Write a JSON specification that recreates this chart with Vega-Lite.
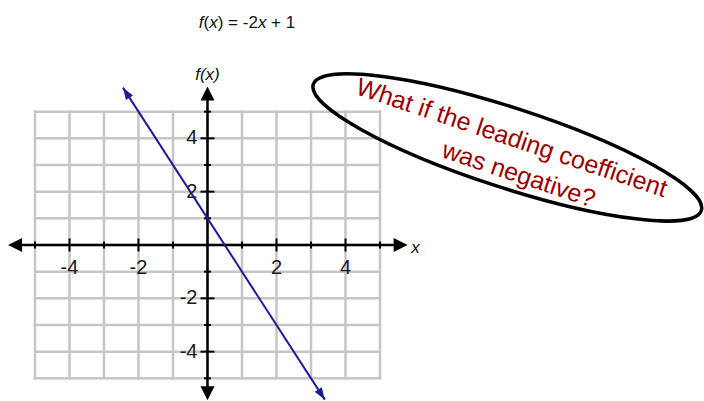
{
  "$schema": "https://vega.github.io/schema/vega-lite/v6.json",
  "width": 704,
  "height": 401,
  "padding": 0,
  "autosize": {"type": "none"},
  "config": {"view": {"stroke": null}},
  "datasets": {
    "grid": [{"v": -5}, {"v": -4}, {"v": -3}, {"v": -2}, {"v": -1}, {"v": 0}, {"v": 1}, {"v": 2}, {"v": 3}, {"v": 4}, {"v": 5}],
    "ticks": [{"v": -5, "major": "no"}, {"v": -4, "major": "yes"}, {"v": -3, "major": "no"}, {"v": -2, "major": "yes"}, {"v": -1, "major": "no"}, {"v": 1, "major": "no"}, {"v": 2, "major": "yes"}, {"v": 3, "major": "no"}, {"v": 4, "major": "yes"}, {"v": 5, "major": "no"}],
    "labels": [{"v": -4, "t": "-4"}, {"v": -2, "t": "-2"}, {"v": 2, "t": "2"}, {"v": 4, "t": "4"}],
    "fline": [{"x": -2.45, "y": 5.9}, {"x": 3.4, "y": -5.8}],
    "one": [{"note1": "What if the leading coefficient", "note2": "was negative?"}]
  },
  "layer": [
    {
      "data": {"name": "grid"},
      "mark": {"type": "rule", "color": "#c6c6c6", "strokeWidth": 2.5, "strokeCap": "square"},
      "encoding": {
        "x": {"field": "v", "type": "quantitative", "scale": {"domain": [-6.014, 14.391], "nice": false, "zero": false}, "axis": null},
        "y": {"datum": -5, "type": "quantitative", "scale": {"domain": [-5.85, 9.187], "nice": false, "zero": false}, "axis": null},
        "y2": {"datum": 5}
      }
    },
    {
      "data": {"name": "grid"},
      "mark": {"type": "rule", "color": "#c6c6c6", "strokeWidth": 2.5, "strokeCap": "square"},
      "encoding": {
        "y": {"field": "v", "type": "quantitative", "scale": {"domain": [-5.85, 9.187], "nice": false, "zero": false}, "axis": null},
        "x": {"datum": -5, "type": "quantitative", "scale": {"domain": [-6.014, 14.391], "nice": false, "zero": false}, "axis": null},
        "x2": {"datum": 5}
      }
    },
    {
      "data": {"name": "one"},
      "mark": {"type": "rule", "color": "#000000", "strokeWidth": 2.5},
      "encoding": {
        "x": {"datum": -5.6, "type": "quantitative", "axis": null},
        "x2": {"datum": 5.6},
        "y": {"datum": 0, "type": "quantitative", "axis": null}
      }
    },
    {
      "data": {"name": "one"},
      "mark": {"type": "rule", "color": "#000000", "strokeWidth": 2.5},
      "encoding": {
        "x": {"datum": 0, "type": "quantitative", "axis": null},
        "y": {"datum": -5.6, "type": "quantitative", "axis": null},
        "y2": {"datum": 5.7}
      }
    },
    {
      "data": {"name": "ticks"},
      "transform": [{"filter": "datum.major == 'yes'"}],
      "mark": {"type": "tick", "orient": "vertical", "color": "#000000", "size": 13, "thickness": 2, "opacity": 1},
      "encoding": {
        "x": {"field": "v", "type": "quantitative", "axis": null},
        "y": {"datum": 0, "type": "quantitative", "axis": null}
      }
    },
    {
      "data": {"name": "ticks"},
      "transform": [{"filter": "datum.major == 'no'"}],
      "mark": {"type": "tick", "orient": "vertical", "color": "#000000", "size": 7, "thickness": 2, "opacity": 1},
      "encoding": {
        "x": {"field": "v", "type": "quantitative", "axis": null},
        "y": {"datum": 0, "type": "quantitative", "axis": null}
      }
    },
    {
      "data": {"name": "ticks"},
      "transform": [{"filter": "datum.major == 'yes'"}],
      "mark": {"type": "tick", "orient": "horizontal", "color": "#000000", "size": 14, "thickness": 2, "opacity": 1},
      "encoding": {
        "y": {"field": "v", "type": "quantitative", "axis": null},
        "x": {"datum": 0, "type": "quantitative", "axis": null}
      }
    },
    {
      "data": {"name": "ticks"},
      "transform": [{"filter": "datum.major == 'no'"}],
      "mark": {"type": "tick", "orient": "horizontal", "color": "#000000", "size": 7, "thickness": 2, "opacity": 1},
      "encoding": {
        "y": {"field": "v", "type": "quantitative", "axis": null},
        "x": {"datum": 0, "type": "quantitative", "axis": null}
      }
    },
    {
      "data": {"name": "one"},
      "mark": {"type": "point", "shape": "M0,0L-1,2L1,2Z", "size": 196, "angle": 0, "filled": true, "color": "#000000", "opacity": 1, "strokeWidth": 0},
      "encoding": {"x": {"datum": 0, "type": "quantitative", "axis": null}, "y": {"datum": 5.94, "type": "quantitative", "axis": null}}
    },
    {
      "data": {"name": "one"},
      "mark": {"type": "point", "shape": "M0,0L-1,2L1,2Z", "size": 196, "angle": 180, "filled": true, "color": "#000000", "opacity": 1, "strokeWidth": 0},
      "encoding": {"x": {"datum": 0, "type": "quantitative", "axis": null}, "y": {"datum": -5.82, "type": "quantitative", "axis": null}}
    },
    {
      "data": {"name": "one"},
      "mark": {"type": "point", "shape": "M0,0L-1,2L1,2Z", "size": 196, "angle": 90, "filled": true, "color": "#000000", "opacity": 1, "strokeWidth": 0},
      "encoding": {"x": {"datum": 5.8, "type": "quantitative", "axis": null}, "y": {"datum": 0, "type": "quantitative", "axis": null}}
    },
    {
      "data": {"name": "one"},
      "mark": {"type": "point", "shape": "M0,0L-1,2L1,2Z", "size": 196, "angle": 270, "filled": true, "color": "#000000", "opacity": 1, "strokeWidth": 0},
      "encoding": {"x": {"datum": -5.78, "type": "quantitative", "axis": null}, "y": {"datum": 0, "type": "quantitative", "axis": null}}
    },
    {
      "data": {"name": "labels"},
      "mark": {"type": "text", "font": "Liberation Sans", "fontSize": 20, "color": "#1a1a1a", "align": "center", "baseline": "middle"},
      "encoding": {
        "x": {"field": "v", "type": "quantitative", "axis": null},
        "y": {"datum": -0.862, "type": "quantitative", "axis": null},
        "text": {"field": "t"}
      }
    },
    {
      "data": {"name": "labels"},
      "mark": {"type": "text", "font": "Liberation Sans", "fontSize": 20, "color": "#1a1a1a", "align": "right", "baseline": "middle"},
      "encoding": {
        "y": {"field": "v", "type": "quantitative", "axis": null},
        "x": {"datum": -0.29, "type": "quantitative", "axis": null},
        "text": {"field": "t"}
      }
    },
    {
      "data": {"name": "fline"},
      "mark": {"type": "line", "color": "#1c1c96", "strokeWidth": 2},
      "encoding": {
        "x": {"field": "x", "type": "quantitative", "axis": null},
        "y": {"field": "y", "type": "quantitative", "axis": null}
      }
    },
    {
      "data": {"name": "one"},
      "mark": {"type": "point", "shape": "M0,0L-0.7,2L0.7,2Z", "size": 144, "angle": 327.1, "filled": true, "color": "#1c1c96", "opacity": 1, "strokeWidth": 0},
      "encoding": {"x": {"datum": -2.45, "type": "quantitative", "axis": null}, "y": {"datum": 5.9, "type": "quantitative", "axis": null}}
    },
    {
      "data": {"name": "one"},
      "mark": {"type": "point", "shape": "M0,0L-0.7,2L0.7,2Z", "size": 144, "angle": 147.1, "filled": true, "color": "#1c1c96", "opacity": 1, "strokeWidth": 0},
      "encoding": {"x": {"datum": 3.4, "type": "quantitative", "axis": null}, "y": {"datum": -5.8, "type": "quantitative", "axis": null}}
    },
    {
      "data": {"name": "one"},
      "mark": {"type": "point", "shape": "M-1,0C-1,-0.1083,-0.5523,-0.196,0,-0.196C0.5523,-0.196,1,-0.1083,1,0C1,0.1083,0.5523,0.196,0,0.196C-0.5523,0.196,-1,0.1083,-1,0Z", "size": 166464, "angle": 18, "filled": false, "color": "#000000", "strokeWidth": 3.5, "opacity": 1},
      "encoding": {"x": {"datum": 8.69, "type": "quantitative", "axis": null}, "y": {"datum": 3.66, "type": "quantitative", "axis": null}}
    },
    {
      "data": {"name": "one"},
      "mark": {"type": "text", "font": "Liberation Sans", "fontSize": 25, "color": "#990000", "angle": 18.5, "align": "center", "baseline": "middle"},
      "encoding": {
        "x": {"datum": 8.817, "type": "quantitative", "axis": null},
        "y": {"datum": 4.012, "type": "quantitative", "axis": null},
        "text": {"field": "note1"}
      }
    },
    {
      "data": {"name": "one"},
      "mark": {"type": "text", "font": "Liberation Sans", "fontSize": 25, "color": "#990000", "angle": 18.5, "align": "center", "baseline": "middle"},
      "encoding": {
        "x": {"datum": 9.02, "type": "quantitative", "axis": null},
        "y": {"datum": 2.64, "type": "quantitative", "axis": null},
        "text": {"field": "note2"}
      }
    },
    {
      "data": {"name": "one"},
      "mark": {"type": "text", "font": "Liberation Sans", "fontSize": 17, "fontStyle": "italic", "color": "#111111", "align": "left", "baseline": "middle", "text": "f"},
      "encoding": {"x": {"datum": -0.252, "type": "quantitative", "axis": null}, "y": {"datum": 8.32, "type": "quantitative", "axis": null}}
    },
    {
      "data": {"name": "one"},
      "mark": {"type": "text", "font": "Liberation Sans", "fontSize": 17, "color": "#111111", "align": "left", "baseline": "middle", "text": "("},
      "encoding": {"x": {"datum": -0.116, "type": "quantitative", "axis": null}, "y": {"datum": 8.32, "type": "quantitative", "axis": null}}
    },
    {
      "data": {"name": "one"},
      "mark": {"type": "text", "font": "Liberation Sans", "fontSize": 17, "fontStyle": "italic", "color": "#111111", "align": "left", "baseline": "middle", "text": "x"},
      "encoding": {"x": {"datum": 0.049, "type": "quantitative", "axis": null}, "y": {"datum": 8.32, "type": "quantitative", "axis": null}}
    },
    {
      "data": {"name": "one"},
      "mark": {"type": "text", "font": "Liberation Sans", "fontSize": 17, "color": "#111111", "align": "left", "baseline": "middle", "text": ") = -2"},
      "encoding": {"x": {"datum": 0.296, "type": "quantitative", "axis": null}, "y": {"datum": 8.32, "type": "quantitative", "axis": null}}
    },
    {
      "data": {"name": "one"},
      "mark": {"type": "text", "font": "Liberation Sans", "fontSize": 17, "fontStyle": "italic", "color": "#111111", "align": "left", "baseline": "middle", "text": "x"},
      "encoding": {"x": {"datum": 1.461, "type": "quantitative", "axis": null}, "y": {"datum": 8.32, "type": "quantitative", "axis": null}}
    },
    {
      "data": {"name": "one"},
      "mark": {"type": "text", "font": "Liberation Sans", "fontSize": 17, "color": "#111111", "align": "left", "baseline": "middle", "text": "+ 1"},
      "encoding": {"x": {"datum": 1.843, "type": "quantitative", "axis": null}, "y": {"datum": 8.32, "type": "quantitative", "axis": null}}
    },
    {
      "data": {"name": "one"},
      "mark": {"type": "text", "font": "Liberation Sans", "fontSize": 17, "fontStyle": "italic", "color": "#111111", "align": "center", "baseline": "middle", "text": "f(x)"},
      "encoding": {
        "x": {"datum": 0, "type": "quantitative", "axis": null},
        "y": {"datum": 6.37, "type": "quantitative", "axis": null}
      }
    },
    {
      "data": {"name": "one"},
      "mark": {"type": "text", "font": "Liberation Sans", "fontSize": 17, "fontStyle": "italic", "color": "#111111", "align": "center", "baseline": "middle", "text": "x"},
      "encoding": {
        "x": {"datum": 6.03, "type": "quantitative", "axis": null},
        "y": {"datum": -0.1, "type": "quantitative", "axis": null}
      }
    }
  ]
}
